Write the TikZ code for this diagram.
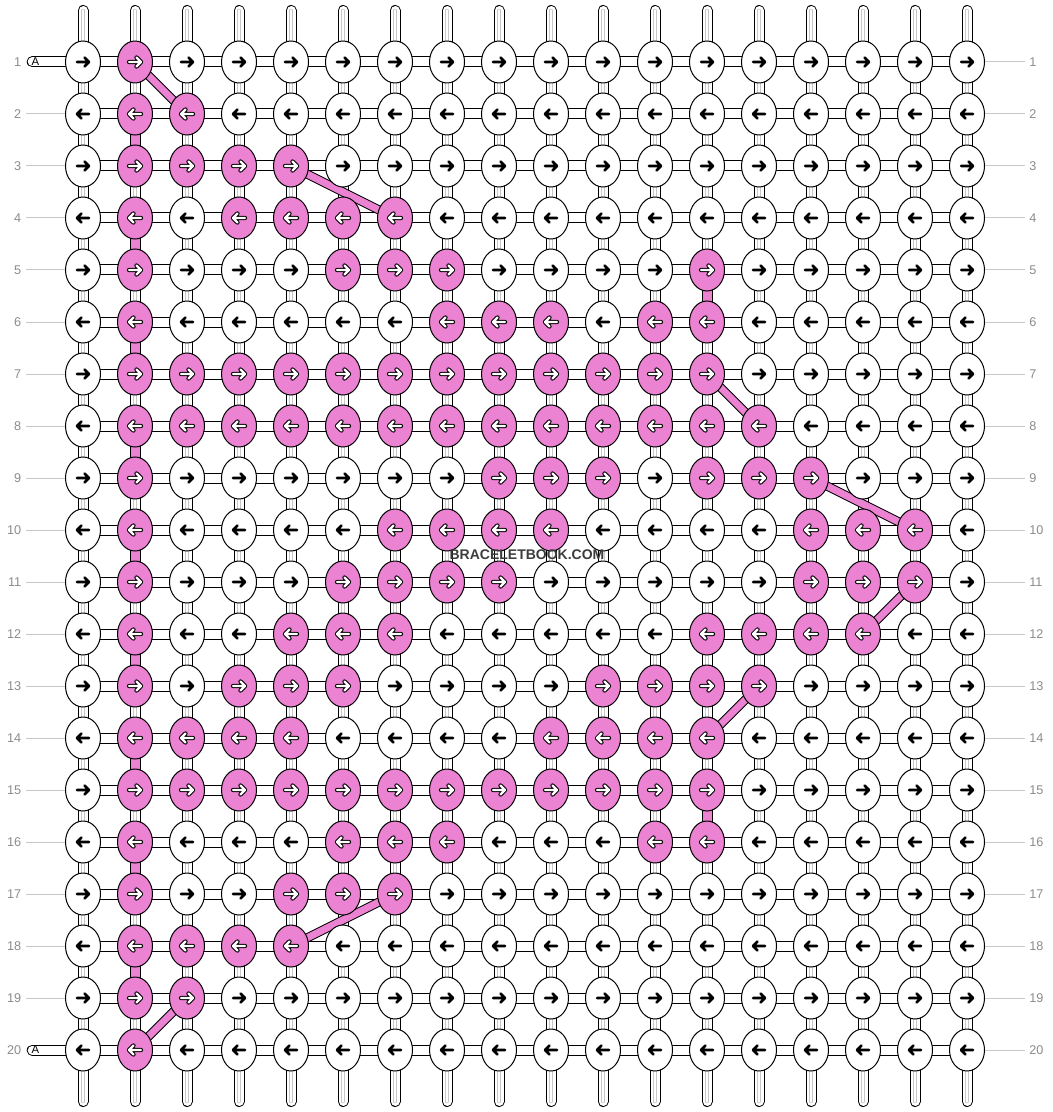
\documentclass[tikz,border=0pt]{standalone}
\usepackage{fontspec}
\setmainfont{Liberation Sans}
\usetikzlibrary{positioning,shapes.geometric,backgrounds}

\definecolor{knotpink}{RGB}{236,130,210}
\definecolor{strandgray}{RGB}{200,200,200}
\definecolor{numgray}{RGB}{140,140,140}
\definecolor{brandgray}{RGB}{60,60,60}

\tikzset{
  knot/.style={ellipse, draw=black, line width=0.75pt, minimum width=26.25pt, minimum height=31.5pt, inner sep=0pt},
  whiteknot/.style={knot, fill=white},
  pinkknot/.style={knot, fill=knotpink},
  hlink/.style={draw=black, line width=0.75pt, double=white, double distance=6.75pt},
  vlink/.style={hlink, postaction={draw=strandgray, line width=0.45pt, double=white, double distance=1.7pt}},
  pvlink/.style={hlink, double=knotpink},
  warpend/.style={vlink, line cap=round},
  pinkband/.style={draw=black, line width=0.75pt, double=knotpink, double distance=5.25pt, line cap=round},
  blackarrow/.style={draw=black, line width=1.9pt, line cap=round, line join=round},
  hollowout/.style={draw=black, line width=3.2pt, line cap=round, line join=round},
  hollowin/.style={draw=white, line width=1.65pt, line cap=round, line join=round},
  tick/.style={draw=strandgray, line width=0.75pt},
  rownum/.style={font=\fontsize{9.5pt}{10pt}\selectfont, text=numgray, inner sep=0pt},
  startlbl/.style={font=\fontsize{8.5pt}{9pt}\selectfont, text=black, inner sep=0pt}
}

\begin{document}
\begin{tikzpicture}[x=0.75pt,y=0.75pt,yscale=-1,xscale=1]
\useasboundingbox (0,0) rectangle (1052,1112);

%pink knots, row/columns
\foreach \r/\cols in {1/{2},2/{2,3},3/{2,...,5},4/{2,4,5,6,7},5/{2,6,7,8,13},6/{2,8,9,10,12,13},7/{2,...,13},8/{2,...,14},9/{2,9,10,11,13,14,15},10/{2,7,8,9,10,15,16,17},11/{2,6,7,8,9,15,16,17},12/{2,5,6,7,13,14,15,16},13/{2,4,5,6,11,12,13,14},14/{2,3,4,5,10,11,12,13},15/{2,...,13},16/{2,6,7,8,12,13},17/{2,5,6,7},18/{2,3,4,5},19/{2,3},20/{2}}
  {\foreach \c in \cols {\expandafter\gdef\csname pk\r-\c\endcsname{}}}
%pink vertical links (row to row+1)
\foreach \r/\c in {2/2,4/2,6/2,8/2,10/2,12/2,14/2,16/2,18/2,5/13,15/13}
  {\expandafter\gdef\csname pv\r-\c\endcsname{}}

%Knots
\foreach \r in {1,...,20}{
  \foreach \c in {1,...,18}{
    \ifcsname pk\r-\c\endcsname
      \node[pinkknot] (k\r-\c) at ({83+52*(\c-1)},{62+52*(\r-1)}) {};
    \else
      \node[whiteknot] (k\r-\c) at ({83+52*(\c-1)},{62+52*(\r-1)}) {};
    \fi
    \ifodd\r \def\aL{-6}\def\aR{6}\def\hb{1.5}\else \def\aL{6}\def\aR{-6}\def\hb{-1.5}\fi
    \begin{scope}[shift={(k\r-\c.center)}]
    \ifcsname pk\r-\c\endcsname
      \draw[hollowout] (\aL,0) -- (\aR,0) (\hb,-4.5) -- (\aR,0) -- (\hb,4.5);
      \draw[hollowin] (\aL,0) -- (\aR,0) (\hb,-4.5) -- (\aR,0) -- (\hb,4.5);
    \else
      \draw[blackarrow] (\aL,0) -- (\aR,0) (\hb,-4.5) -- (\aR,0) -- (\hb,4.5);
    \fi
    \end{scope}
  }
}

\begin{scope}[on background layer]
\fill[white] (0,0) rectangle (1052,1112);
%Warp ends
\foreach \c in {1,...,18}{
  \coordinate (top\c) at ({83+52*(\c-1)},10.5);
  \coordinate (bot\c) at ({83+52*(\c-1)},1101.5);
  \draw[warpend] (top\c) -- (k1-\c.center);
  \draw[warpend] (k20-\c.center) -- (bot\c);
}
%Vertical links
\foreach \c in {1,...,18}{
  \foreach \r [count=\s from 2] in {1,...,19}{
    \ifcsname pv\r-\c\endcsname
      \draw[pvlink] (k\r-\c.center) -- (k\s-\c.center);
    \else
      \draw[vlink] (k\r-\c.center) -- (k\s-\c.center);
    \fi
  }
}
%Horizontal links
\foreach \r in {1,...,20}{
  \foreach \c [count=\d from 2] in {1,...,17}{
    \draw[hlink] (k\r-\c.center) -- (k\r-\d.center);
  }
}
%Start threads
\coordinate (A1) at (32.2,62);
\coordinate (A20) at (32.2,1050);
\draw[hlink, line cap=round] (A1) -- (k1-1.center);
\draw[hlink, line cap=round] (A20) -- (k20-1.center);
%Pink bands
\draw[pinkband] (k1-2.center) -- (k2-3.center);
\draw[pinkband] (k3-5.center) -- (k4-7.center);
\draw[pinkband] (k7-13.center) -- (k8-14.center);
\draw[pinkband] (k9-15.center) -- (k10-17.center);
\draw[pinkband] (k11-17.center) -- (k12-16.center);
\draw[pinkband] (k13-14.center) -- (k14-13.center);
\draw[pinkband] (k17-7.center) -- (k18-5.center);
\draw[pinkband] (k19-3.center) -- (k20-2.center);
\end{scope}

%Start labels
\node[startlbl] (lblA1) at (35.5,62) {A};
\node[startlbl] (lblA20) at (35.5,1050) {A};

%Row numbers
\foreach \r in {2,...,19}{
  \coordinate (ln\r) at (26,{62+52*(\r-1)});
  \draw[tick] (ln\r) -- (k\r-1.west);
}
\foreach \r in {1,...,20}{
  \coordinate (rn\r) at (1025,{62+52*(\r-1)});
  \draw[tick] (k\r-18.east) -- (rn\r);
  \node[rownum, anchor=east] (nl\r) at (21.5,{62+52*(\r-1)}) {\r};
  \node[rownum, anchor=west] (nr\r) at (1029,{62+52*(\r-1)}) {\r};
}

\node[font=\bfseries\fontsize{10.5pt}{12pt}\selectfont, text=brandgray, inner sep=0pt] (brand) at (527,555) {BRACELETBOOK.COM};

\end{tikzpicture}
\end{document}
